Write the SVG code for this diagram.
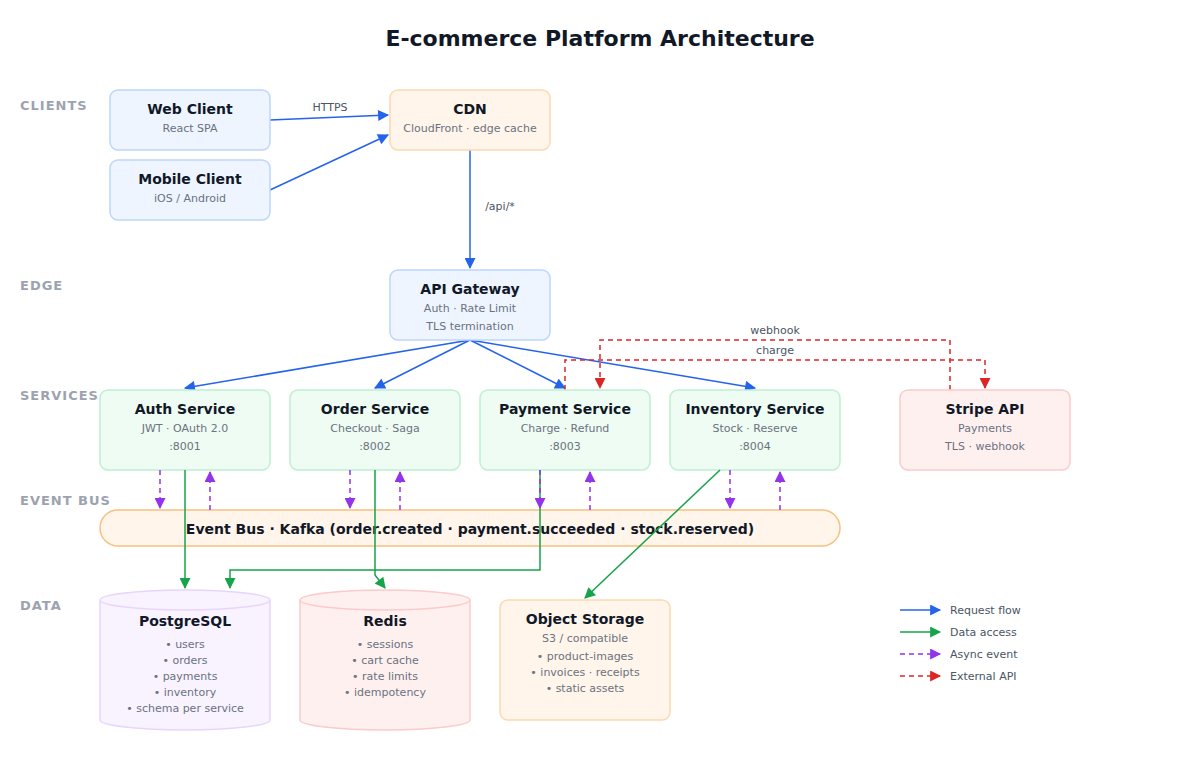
<svg xmlns="http://www.w3.org/2000/svg" width="1200" height="780" viewBox="0 0 1200 780">
<style>
text{font-family:"DejaVu Sans","Noto Sans",sans-serif;text-anchor:middle}
.t{font-size:14px;font-weight:bold;fill:#111827}
.s{font-size:11px;fill:#6b7280}
.lane{font-size:13px;font-weight:bold;fill:#9ca3af;text-anchor:start;letter-spacing:1px}
.lbl{font-size:11px;fill:#4b5563}
.leg{font-size:11px;fill:#4b5563;text-anchor:start}
.b{stroke:#2563eb;stroke-width:1.5;fill:none;marker-end:url(#ab)}
.g{stroke:#16a34a;stroke-width:1.5;fill:none;marker-end:url(#ag)}
.p{stroke:#9333ea;stroke-width:1.5;fill:none;stroke-dasharray:5 4;marker-end:url(#ap)}
.r{stroke:#dc2626;stroke-width:1.5;fill:none;stroke-dasharray:5 4;marker-end:url(#ar)}
.client{fill:#eef5ff;stroke:#bcd6fb;stroke-width:1.5}
.orange{fill:#fff5ea;stroke:#fcd9b0;stroke-width:1.5}
.svc{fill:#effcf3;stroke:#bdf0cf;stroke-width:1.5}
.red{fill:#fff0f0;stroke:#fccaca;stroke-width:1.5}
.pur{fill:#f8f3ff;stroke:#e8d5fc;stroke-width:1.5}
</style>
<defs>
<marker id="ab" viewBox="0 0 10 10" refX="9" refY="5" markerWidth="13" markerHeight="11" orient="auto" markerUnits="userSpaceOnUse"><path d="M0,0L10,5L0,10z" fill="#2563eb"/></marker>
<marker id="ag" viewBox="0 0 10 10" refX="9" refY="5" markerWidth="13" markerHeight="11" orient="auto" markerUnits="userSpaceOnUse"><path d="M0,0L10,5L0,10z" fill="#16a34a"/></marker>
<marker id="ap" viewBox="0 0 10 10" refX="9" refY="5" markerWidth="13" markerHeight="11" orient="auto" markerUnits="userSpaceOnUse"><path d="M0,0L10,5L0,10z" fill="#9333ea"/></marker>
<marker id="ar" viewBox="0 0 10 10" refX="9" refY="5" markerWidth="13" markerHeight="11" orient="auto" markerUnits="userSpaceOnUse"><path d="M0,0L10,5L0,10z" fill="#dc2626"/></marker>
</defs>
<rect width="1200" height="780" fill="#fff"/>
<text x="600" y="46" style="font-size:22px;font-weight:bold;fill:#111827">E-commerce Platform Architecture</text>
<text class="lane" x="20" y="110">CLIENTS</text>
<text class="lane" x="20" y="290">EDGE</text>
<text class="lane" x="20" y="400">SERVICES</text>
<text class="lane" x="20" y="505">EVENT BUS</text>
<text class="lane" x="20" y="610">DATA</text>

<g id="connectors">
<path class="b" d="M270,120L388,115"/>
<text class="lbl" x="330" y="111">HTTPS</text>
<path class="b" d="M270,190L388,135"/>
<path class="b" d="M470,150V268"/>
<text class="lbl" x="500" y="210">/api/*</text>
<path class="b" d="M470,340L185,388"/>
<path class="b" d="M470,340L375,388"/>
<path class="b" d="M470,340L565,388"/>
<path class="b" d="M470,340L755,388"/>
<path class="r" d="M565,390V360H985V388"/>
<text class="lbl" x="775" y="354">charge</text>
<path class="r" d="M950,390V340H600V388"/>
<text class="lbl" x="775" y="334">webhook</text>
</g>

<g id="clients">
<g id="web"><rect class="client" x="110" y="90" width="160" height="60" rx="8"/><text class="t" x="190" y="114">Web Client</text><text class="s" x="190" y="132">React SPA</text></g>
<g id="mobile"><rect class="client" x="110" y="160" width="160" height="60" rx="8"/><text class="t" x="190" y="184">Mobile Client</text><text class="s" x="190" y="202">iOS / Android</text></g>
<g id="cdn"><rect class="orange" x="390" y="90" width="160" height="60" rx="8"/><text class="t" x="470" y="114">CDN</text><text class="s" x="470" y="132">CloudFront · edge cache</text></g>
</g>
<g id="gateway"><rect class="client" x="390" y="270" width="160" height="70" rx="8"/><text class="t" x="470" y="294">API Gateway</text><text class="s" x="470" y="312">Auth · Rate Limit</text><text class="s" x="470" y="330">TLS termination</text></g>
<g id="auth"><rect class="svc" x="100" y="390" width="170" height="80" rx="8"/><text class="t" x="185" y="414">Auth Service</text><text class="s" x="185" y="432">JWT · OAuth 2.0</text><text class="s" x="185" y="450">:8001</text></g>
<g id="order"><rect class="svc" x="290" y="390" width="170" height="80" rx="8"/><text class="t" x="375" y="414">Order Service</text><text class="s" x="375" y="432">Checkout · Saga</text><text class="s" x="375" y="450">:8002</text></g>
<g id="payment"><rect class="svc" x="480" y="390" width="170" height="80" rx="8"/><text class="t" x="565" y="414">Payment Service</text><text class="s" x="565" y="432">Charge · Refund</text><text class="s" x="565" y="450">:8003</text></g>
<g id="inventory"><rect class="svc" x="670" y="390" width="170" height="80" rx="8"/><text class="t" x="755" y="414">Inventory Service</text><text class="s" x="755" y="432">Stock · Reserve</text><text class="s" x="755" y="450">:8004</text></g>
<g id="stripe"><rect class="red" x="900" y="390" width="170" height="80" rx="8"/><text class="t" x="985" y="414">Stripe API</text><text class="s" x="985" y="432">Payments</text><text class="s" x="985" y="450">TLS · webhook</text></g>
<g id="bus"><rect x="100" y="510" width="740" height="36" rx="18" fill="#fff5ea" stroke="#f8c080" stroke-width="1.5"/><text class="t" x="470" y="534">Event Bus · Kafka (order.created · payment.succeeded · stock.reserved)</text></g>

<g id="postgres"><path class="pur" d="M100,600V720A85,10 0 0 0 270,720V600"/><ellipse class="pur" cx="185" cy="600" rx="85" ry="10"/>
<text class="t" x="185" y="626">PostgreSQL</text><text class="s" x="185" y="648">• users</text><text class="s" x="185" y="664">• orders</text><text class="s" x="185" y="680">• payments</text><text class="s" x="185" y="696">• inventory</text><text class="s" x="185" y="712">• schema per service</text></g>
<g id="redis"><path class="red" d="M300,600V720A85,10 0 0 0 470,720V600"/><ellipse class="red" cx="385" cy="600" rx="85" ry="10"/>
<text class="t" x="385" y="626">Redis</text><text class="s" x="385" y="648">• sessions</text><text class="s" x="385" y="664">• cart cache</text><text class="s" x="385" y="680">• rate limits</text><text class="s" x="385" y="696">• idempotency</text></g>
<g id="objstore"><rect class="orange" x="500" y="600" width="170" height="120" rx="8"/><text class="t" x="585" y="624">Object Storage</text><text class="s" x="585" y="642">S3 / compatible</text><text class="s" x="585" y="660">• product-images</text><text class="s" x="585" y="676">• invoices · receipts</text><text class="s" x="585" y="692">• static assets</text></g>

<g id="data-connectors">
<path class="g" d="M185,470V588"/>
<path class="g" d="M375,470V575L385,588"/>
<path class="g" d="M540,470V570H230V588"/>
<path class="g" d="M720,470L585,598"/>
</g>
<g id="async-connectors">
<path class="p" d="M160,470V508"/><path class="p" d="M210,510V472"/>
<path class="p" d="M350,470V508"/><path class="p" d="M400,510V472"/>
<path class="p" d="M540,470V508"/><path class="p" d="M590,510V472"/>
<path class="p" d="M730,470V508"/><path class="p" d="M780,510V472"/>
</g>

<g id="legend">
<path class="b" d="M900,610H940"/><text class="leg" x="950" y="614">Request flow</text>
<path class="g" d="M900,632H940"/><text class="leg" x="950" y="636">Data access</text>
<path class="p" d="M900,654H940"/><text class="leg" x="950" y="658">Async event</text>
<path class="r" d="M900,676H940"/><text class="leg" x="950" y="680">External API</text>
</g>
</svg>
